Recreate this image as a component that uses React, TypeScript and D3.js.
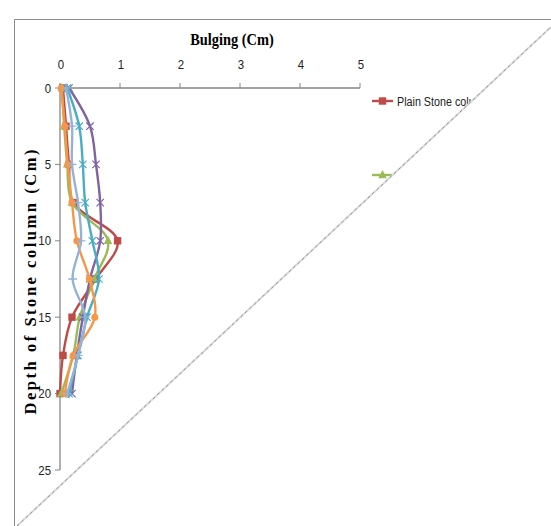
import React from "react";
import * as d3 from "d3";

const depths = [0, 2.5, 5, 7.5, 10, 12.5, 15, 17.5, 20];
const plainStone = [0.05, 0.1, 0.15, 0.22, 0.96, 0.6, 0.2, 0.05, 0.0];
const series3 = [0.03, 0.07, 0.12, 0.2, 0.8, 0.57, 0.33, 0.22, 0.02];
const series4 = [0.15, 0.5, 0.6, 0.67, 0.67, 0.5, 0.38, 0.28, 0.2];
const series5 = [0.12, 0.32, 0.38, 0.42, 0.54, 0.65, 0.45, 0.3, 0.15];
const series6 = [0.02, 0.08, 0.13, 0.2, 0.28, 0.49, 0.58, 0.22, 0.08];
const series7 = [0.1, 0.2, 0.2, 0.3, 0.35, 0.21, 0.42, 0.3, 0.12];
const xTicks = [0, 1, 2, 3, 4, 5];
const yTicks = [0, 5, 10, 15, 20, 25];
const legendNames = ["Plain Stone column", "Stone column"];

const seriesList = [
  { name: legendNames[0], values: plainStone, color: "#BE4B48", marker: "square" },
  { name: legendNames[1], values: series3, color: "#9BBB59", marker: "triangle" },
  { name: "s4", values: series4, color: "#8064A2", marker: "x" },
  { name: "s5", values: series5, color: "#4BACC6", marker: "star" },
  { name: "s6", values: series6, color: "#F79646", marker: "circle" },
  { name: "s7", values: series7, color: "#95B3D7", marker: "plus" },
];

function Marker({ type, x, y, color }: { type: string; x: number; y: number; color: string }) {
  const s = 3.7;
  switch (type) {
    case "square":
      return <rect x={x - s} y={y - s} width={2 * s} height={2 * s} fill={color} />;
    case "triangle":
      return <path d={`M${x},${y - 5}L${x + 4.3},${y + 3.2}L${x - 4.3},${y + 3.2}Z`} fill={color} />;
    case "circle":
      return <circle cx={x} cy={y} r={3.5} fill={color} />;
    case "x":
      return (
        <path d={`M${x - s},${y - s}L${x + s},${y + s}M${x - s},${y + s}L${x + s},${y - s}`} stroke={color} strokeWidth={1.2} />
      );
    case "star":
      return (
        <path
          d={`M${x - s},${y - s}L${x + s},${y + s}M${x - s},${y + s}L${x + s},${y - s}M${x},${y - s - 0.5}L${x},${y + s + 0.5}`}
          stroke={color}
          strokeWidth={1.2}
        />
      );
    case "plus":
      return <path d={`M${x - 4.5},${y}L${x + 4.5},${y}M${x},${y - 4.5}L${x},${y + 4.5}`} stroke={color} strokeWidth={1.3} />;
    default:
      return null;
  }
}

export default function App() {
  const W = 551;
  const H = 526;
  const x = d3.scaleLinear().domain([0, 5]).range([60, 360]);
  const y = d3.scaleLinear().domain([0, 25]).range([88, 470]);
  const line = d3
    .line<number>()
    .x((d) => x(d))
    .y((_, i) => y(depths[i]))
    .curve(d3.curveCatmullRom.alpha(0.5));

  const fontSans = "'Liberation Sans', Arial, sans-serif";
  const fontSerif = "'Liberation Serif', 'Times New Roman', serif";

  const p1 = [17, 526];
  const p2 = [551, 27];

  return (
    <svg width={W} height={H} style={{ position: "absolute", left: 0, top: 0, background: "#fff" }}>
      <rect x={0} y={0} width={W} height={H} fill="#fff" />
      <path d={`M14.5,${H}L14.5,19.5L${W},19.5`} fill="none" stroke="#8c8c8c" strokeWidth={1} />

      <g transform="translate(232,45) scale(0.9,1.08)">
        <text x={0} y={0} textAnchor="middle" fontFamily={fontSerif} fontWeight="bold" fontSize={16}>
          Bulging  (Cm)
        </text>
      </g>
      <text
        transform={`translate(36,282) rotate(-90)`}
        textAnchor="middle"
        fontFamily={fontSerif}
        fontWeight="bold"
        fontSize={16.5}
        textLength={265}
        lengthAdjust="spacing"
      >
        Depth of Stone column (Cm)
      </text>

      <line x1={x(0)} x2={x(5)} y1={y(0)} y2={y(0)} stroke="#868686" strokeWidth={1.3} />
      {xTicks.map((t) => (
        <g key={"xt" + t} transform={`translate(${x(t) + 1},69) scale(0.88,1.05)`}>
          <text x={0} y={0} textAnchor="middle" fontFamily={fontSans} fontSize={13} fill="#222">
            {t}
          </text>
        </g>
      ))}
      {xTicks.map((t) => (
        <line key={"xtk" + t} x1={x(t)} x2={x(t)} y1={y(0)} y2={y(0) - 5} stroke="#868686" strokeWidth={1} />
      ))}

      <line x1={x(0)} x2={x(0)} y1={y(0)} y2={y(25)} stroke="#868686" strokeWidth={1.3} />
      {yTicks.map((t) => (
        <g key={"yt" + t}>
          <line x1={x(0) - 5} x2={x(0)} y1={y(t)} y2={y(t)} stroke="#868686" strokeWidth={1} />
          <g transform={`translate(${x(0) - 9},${y(t) + 4.5}) scale(0.88,1.05)`}>
            <text x={0} y={0} textAnchor="end" fontFamily={fontSans} fontSize={13} fill="#222">
              {t}
            </text>
          </g>
        </g>
      ))}

      {seriesList.map((s) => (
        <g key={s.name}>
          <path d={line(s.values) || ""} fill="none" stroke={s.color} strokeWidth={2.4} />
          {s.values.map((v, i) => (
            <Marker key={i} type={s.marker} x={x(v)} y={y(depths[i])} color={s.color} />
          ))}
        </g>
      ))}

      {seriesList.slice(0, 2).map((s, i) => {
        const ly = 101 + i * 74;
        return (
          <g key={"lg" + i}>
            <line x1={372} x2={393} y1={ly} y2={ly} stroke={s.color} strokeWidth={2.4} />
            <Marker type={s.marker} x={382.5} y={ly} color={s.color} />
            <g transform={`translate(397,${ly + 4.5}) scale(0.86,1.05)`}>
              <text x={0} y={0} fontFamily={fontSans} fontSize={12.5} fill="#222">
                {s.name}
              </text>
            </g>
          </g>
        );
      })}

      <path d={`M${p1[0]},${p1[1]}L${p2[0]},${p2[1]}L${W},${H}Z`} fill="#fff" />
      <line x1={p1[0]} y1={p1[1]} x2={p2[0]} y2={p2[1]} stroke="#dadada" strokeWidth={2} />
      <line x1={p1[0]} y1={p1[1]} x2={p2[0]} y2={p2[1]} stroke="#777" strokeWidth={0.7} strokeDasharray="3 3" />
    </svg>
  );
}
